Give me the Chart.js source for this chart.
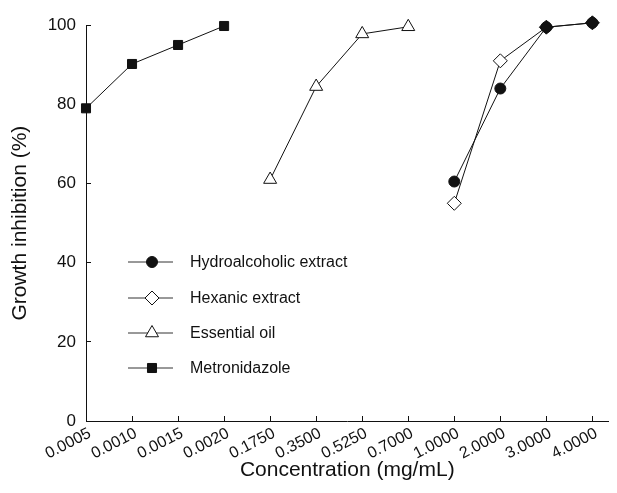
<!DOCTYPE html>
<html>
<head>
<meta charset="utf-8">
<script src="https://cdn.jsdelivr.net/npm/chart.js@4/dist/chart.umd.min.js"></script>
<style>
	html, body { margin: 0; padding: 0; background: #ffffff; }
	#wrap { width: 617px; height: 493px; position: relative; }
</style>
</head>
<body>
<div id="wrap"><canvas id="chart"></canvas></div>
<script>
"use strict";

// concentration tick labels (mg/mL), one per x position
var concentrations = ["0.0005", "0.0010", "0.0015", "0.0020", "0.1750", "0.3500",
	"0.5250", "0.7000", "1.0000", "2.0000", "3.0000", "4.0000"];

// growth inhibition (%) per treatment, each over 4 consecutive concentrations
var hydroStart = 8;
var hydroValues = [60.5, 84, 99.5, 100.6];

var hexanicStart = 8;
var hexanicValues = [55, 91, 99.5, 100.6];

var oilStart = 4;
var oilValues = [61, 84.5, 97.8, 99.6];

var metroStart = 0;
var metroValues = [79, 90.2, 95, 99.8];

var yTicks = [0, 20, 40, 60, 80, 100];

var ink = "#111111";
var fontName = "'Liberation Sans', Arial, Helvetica, sans-serif";

function toPoints(start, values) {
	return values.map(function (v, i) {
		return { x: start + i, y: v };
	});
}

function lineDataset(label, start, values, style, radius, fill) {
	return {
		label: label,
		data: toPoints(start, values),
		borderColor: ink,
		borderWidth: 1,
		pointStyle: style,
		pointRadius: radius,
		pointHoverRadius: radius,
		pointBorderColor: ink,
		pointBorderWidth: 1,
		pointBackgroundColor: fill,
		fill: false,
		tension: 0,
		clip: false
	};
}

// legend drawn as short line + marker, like the original figure
var lineLegend = {
	id: "lineLegend",
	afterDatasetsDraw: function (chart) {
		var ctx = chart.ctx;
		var x0 = 128, x1 = 173, xm = 152, xt = 190;
		var rows = [262, 298, 333, 368];

		ctx.save();
		chart.data.datasets.forEach(function (ds, i) {
			var y = rows[i];
			ctx.strokeStyle = "#333333";
			ctx.lineWidth = 1;
			ctx.beginPath();
			ctx.moveTo(x0, y);
			ctx.lineTo(x1, y);
			ctx.stroke();

			var fill = Array.isArray(ds.pointBackgroundColor) ? ds.pointBackgroundColor[0] : ds.pointBackgroundColor;
			ctx.fillStyle = fill;
			ctx.strokeStyle = ink;
			ctx.lineWidth = 1;
			Chart.helpers.drawPoint(ctx, {
				pointStyle: ds.pointStyle,
				radius: ds.pointRadius,
				borderWidth: 1,
				rotation: 0
			}, xm, y);

			ctx.fillStyle = ink;
			ctx.font = "16px " + fontName;
			ctx.textAlign = "left";
			ctx.textBaseline = "middle";
			ctx.fillText(ds.label, xt, y + 1);
		});
		ctx.restore();
	}
};

var datasets = [
	lineDataset("Hydroalcoholic extract", hydroStart, hydroValues, "circle", 5.5, ink),
	lineDataset("Hexanic extract", hexanicStart, hexanicValues, "rectRot", 7, ["#ffffff", "#ffffff", ink, ink]),
	lineDataset("Essential oil", oilStart, oilValues, "triangle", 7.5, "#ffffff"),
	lineDataset("Metronidazole", metroStart, metroValues, "rect", 6.4, ink)
];

var config = {
	type: "line",
	data: { datasets: datasets },
	options: {
		responsive: false,
		animation: false,
		events: [],
		layout: { padding: { top: 25, right: 0, bottom: 0, left: 0 } },
		plugins: {
			legend: { display: false },
			tooltip: { enabled: false }
		},
		scales: {
			x: {
				type: "linear",
				min: 0,
				max: 11.35,
				afterFit: function (scale) { scale.height = 72; },
				border: { display: true, color: ink, width: 1 },
				grid: { drawOnChartArea: false, drawTicks: true, tickLength: -5, color: ink },
				ticks: {
					stepSize: 1,
					includeBounds: false,
					autoSkip: false,
					minRotation: 27,
					maxRotation: 27,
					padding: 8,
					labelOffset: 4,
					color: ink,
					font: { family: fontName, size: 16 },
					callback: function (value) {
						return Number.isInteger(value) ? (concentrations[value] || "") : "";
					}
				},
				title: {
					display: true,
					text: "Concentration (mg/mL)",
					color: ink,
					padding: { top: 0, bottom: 10 },
					font: { family: fontName, size: 21 }
				}
			},
			y: {
				min: 0,
				max: 100,
				afterFit: function (scale) { scale.width = 86; },
				afterBuildTicks: function (scale) {
					scale.ticks = yTicks.map(function (v) { return { value: v }; });
				},
				border: { display: true, color: ink, width: 1 },
				grid: { drawOnChartArea: false, drawTicks: true, tickLength: -5, color: ink },
				ticks: {
					padding: 15,
					color: ink,
					font: { family: fontName, size: 17 }
				},
				title: {
					display: true,
					text: "Growth inhibition (%)",
					color: ink,
					padding: { top: 8, bottom: 8 },
					font: { family: fontName, size: 21 }
				}
			}
		}
	},
	plugins: [lineLegend]
};

var canvas = document.getElementById("chart");
canvas.width = 617;
canvas.height = 493;
var chart = new Chart(canvas.getContext("2d"), config);
</script>
</body>
</html>
